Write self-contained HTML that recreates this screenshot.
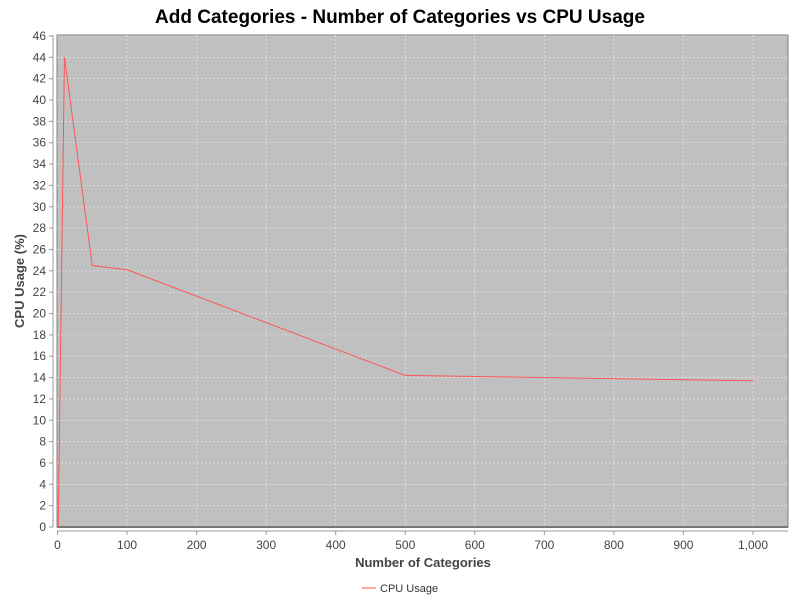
<!DOCTYPE html>
<html><head><meta charset="utf-8"><style>
body{margin:0;background:#fff;}
svg{font-family:"Liberation Sans","DejaVu Sans",sans-serif;}
</style></head><body>
<svg id="c" width="800" height="600" xmlns="http://www.w3.org/2000/svg">
<text x="400" y="23" text-anchor="middle" font-size="19" font-weight="bold" fill="#000">Add Categories - Number of Categories vs CPU Usage</text>
<rect x="57" y="35" width="731" height="492" fill="#c0c0c0" stroke="#808080"/>
<g id="grid"></g><g id="axes"></g><g id="series"></g>
<text x="423" y="567" text-anchor="middle" font-size="13" font-weight="bold" fill="#444">Number of Categories</text>
<text transform="translate(24,281) rotate(-90)" text-anchor="middle" font-size="13" font-weight="bold" fill="#444">CPU Usage (%)</text>
<g><line x1="362" y1="588" x2="376" y2="588" stroke="#ff5555" stroke-width="1"/><text x="380" y="592" font-size="11" fill="#333">CPU Usage</text></g>
</svg>
<script>
const xValues=[1,10,50,100,500,1000];
const cpuValues=[0,44,24.5,24.1,14.2,13.7];
const xTicks=[0,100,200,300,400,500,600,700,800,900,1000];
const xTickLabels=["0","100","200","300","400","500","600","700","800","900","1,000"];
const yTicks=[0,2,4,6,8,10,12,14,16,18,20,22,24,26,28,30,32,34,36,38,40,42,44,46];
const NS="http://www.w3.org/2000/svg";
const X=v=>57.5+v*0.6955, Y=v=>527-v*(491/46);
function mk(t,a,p){const e=document.createElementNS(NS,t);for(const k in a)e.setAttribute(k,a[k]);p.appendChild(e);return e;}
const g=document.getElementById('grid'),ax=document.getElementById('axes'),s=document.getElementById('series');
xTicks.forEach((v,i)=>{
 if(v>0){const l=mk('line',{x1:X(v),x2:X(v),y1:35,y2:527,stroke:'#eee','stroke-dasharray':'2,2','stroke-width':0.6},g);
 
 }
 mk('line',{x1:X(v),x2:X(v),y1:531,y2:535,stroke:'#999'},ax);
 const t=mk('text',{x:X(v),y:549,'text-anchor':'middle','font-size':12,fill:'#444'},ax);t.textContent=xTickLabels[i];
 
 
});
yTicks.forEach(v=>{
 if(v>0){const l=mk('line',{x1:57,x2:788,y1:Y(v),y2:Y(v),stroke:'#eee','stroke-dasharray':'2,2','stroke-width':0.6},g);
 
 }
 mk('line',{x1:49,x2:53,y1:Y(v),y2:Y(v),stroke:'#999'},ax);
 const t=mk('text',{x:46,y:Y(v)+4,'text-anchor':'end','font-size':12,fill:'#444'},ax);t.textContent=v;
 
 
});
mk('line',{x1:53,x2:53,y1:35,y2:527,stroke:'#999'},ax);
mk('line',{x1:57,x2:788,y1:531,y2:531,stroke:'#999'},ax);
mk('line',{x1:57,x2:788,y1:527,y2:527,stroke:'#777',"stroke-width":2},ax);
const pl=mk('polyline',{points:xValues.map((x,i)=>X(x)+','+Y(cpuValues[i])).join(' '),fill:'none',stroke:'#ff5555','stroke-width':1},s);


</script>
</body></html>
